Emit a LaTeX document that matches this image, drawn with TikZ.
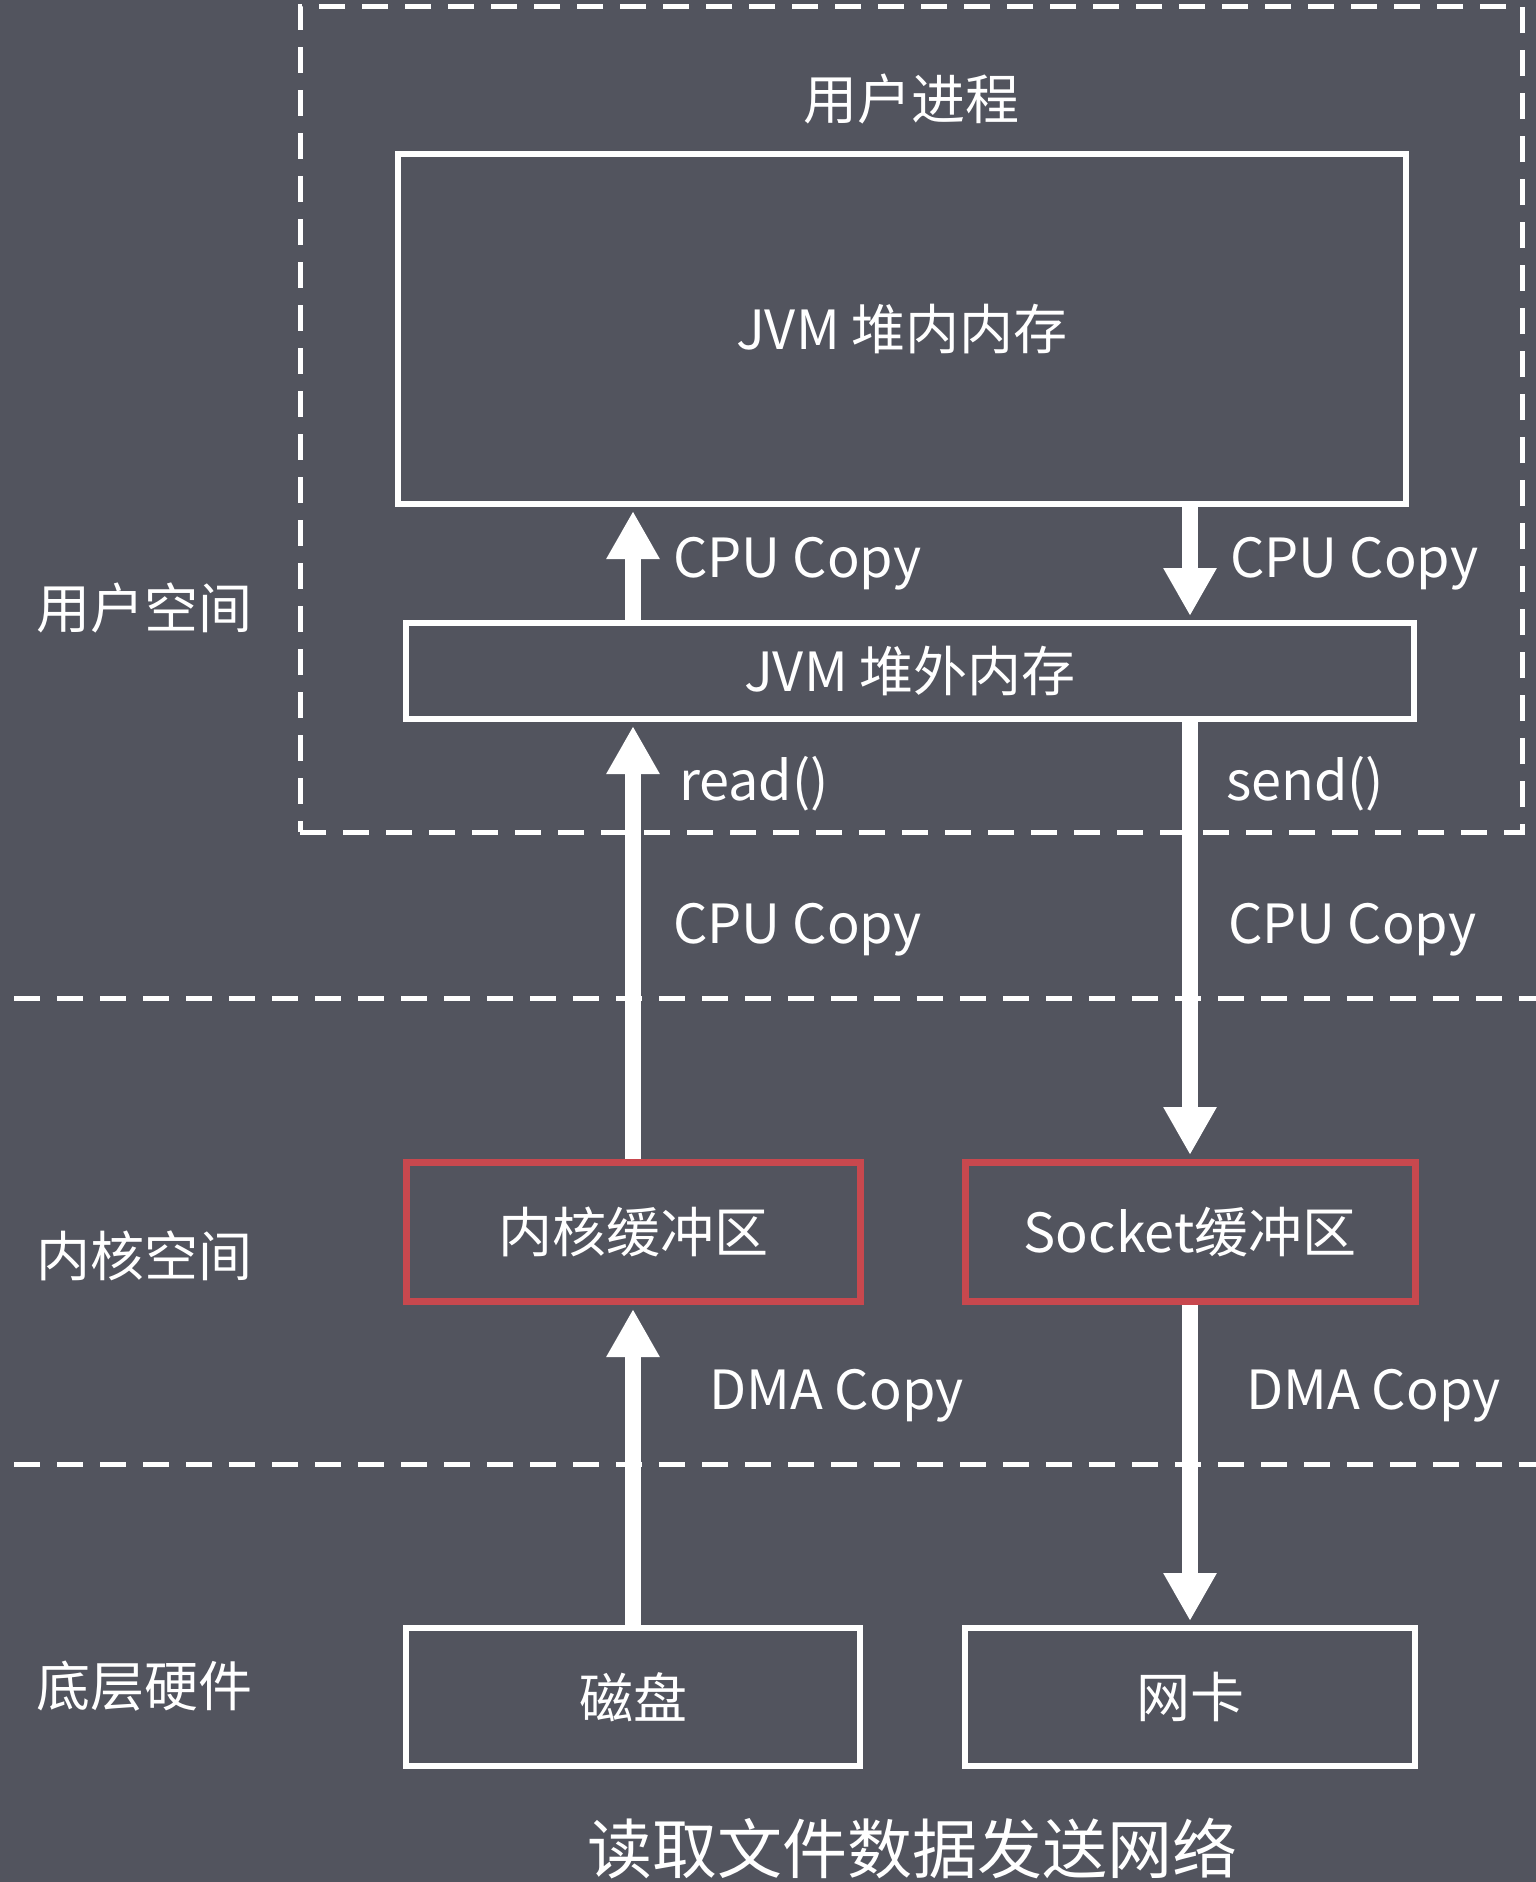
\documentclass[tikz,border=0pt]{standalone}
\usepackage{fontspec}
\setmainfont{Noto Sans CJK SC}
\usetikzlibrary{arrows.meta, positioning}

\definecolor{bgcol}{RGB}{82,84,94}
\definecolor{bufred}{RGB}{200,72,78}

\begin{document}
\begin{tikzpicture} [x=1pt, y=-1pt,
		txt/.style={text=white, inner sep=0pt, font=\fontsize{54}{60}\selectfont},
		box/.style={draw=white, line width=6pt, txt},
		redbox/.style={draw=bufred, line width=7pt, txt, minimum width=454pt, minimum height=139pt},
		hwbox/.style={box, minimum width=454pt, minimum height=138pt},
		flow/.style={white, line width=16pt, -{Triangle[width=50pt, length=48pt]}, shorten >=4pt},
		split/.style={draw=white, line width=5pt, dash pattern=on 26pt off 17pt}]
		\fill [bgcol] (0,0) rectangle (1536,1882);
		\useasboundingbox (0,0) rectangle (1536,1882);
		% user process
		\node (proc) [split, minimum width=1222pt, minimum height=826pt] at (911,419) {};
		\node (proclbl) [txt, below=70pt of proc.north] {用户进程};
		\node (heap) [box, minimum width=1008pt, minimum height=350pt] at (902,329) {JVM 堆内内存};
		\node (offheap) [box, minimum width=1008pt, minimum height=96pt] at (910,671) {JVM 堆外内存};
		% kernel and hardware
		\node (kbuf) [redbox] at (633,1232) {内核缓冲区};
		\node (sbuf) [redbox, minimum width=450pt] at (1190,1232) {Socket缓冲区};
		\node (disk) [hwbox] at (633,1697) {磁盘};
		\node (nic) [hwbox, minimum width=450pt] at (1190,1697) {网卡};
		% layers
		\coordinate (l1) at (14,998);
		\coordinate (l2) at (14,1464);
		\draw [split] (l1) -- (l1 -| 1536,0);
		\draw [split] (l2) -- (l2 -| 1536,0);
		\node (uspace) [txt] at (144,608) {用户空间};
		\node (kspace) [txt] at (144,1256) {内核空间};
		\node (hw) [txt] at (144,1686) {底层硬件};
		\node (title) [txt, font=\fontsize{65}{72}\selectfont] at (912,1849) {读取文件数据发送网络};
		\path [flow]
		(offheap.north -| kbuf) edge node [txt, right=32pt] {CPU Copy} (heap.south -| kbuf)
		(heap.south -| sbuf) edge node [txt, right=32pt] {CPU Copy} (offheap.north -| sbuf)
		(kbuf.north) edge node [txt, pos=.525, right=32pt] {CPU Copy}
			node [txt, pos=.858, right=38pt] {read()} (offheap.south -| kbuf)
		(offheap.south -| sbuf) edge node [txt, pos=.142, right=28pt] {send()}
			node [txt, pos=.475, right=30pt] {CPU Copy} (sbuf.north)
		(disk.north) edge node [txt, pos=.718, right=68pt] {DMA Copy} (kbuf.south)
		(sbuf.south) edge node [txt, pos=.282, right=48pt] {DMA Copy} (nic.north)
		;
	\end{tikzpicture}
\end{document}
